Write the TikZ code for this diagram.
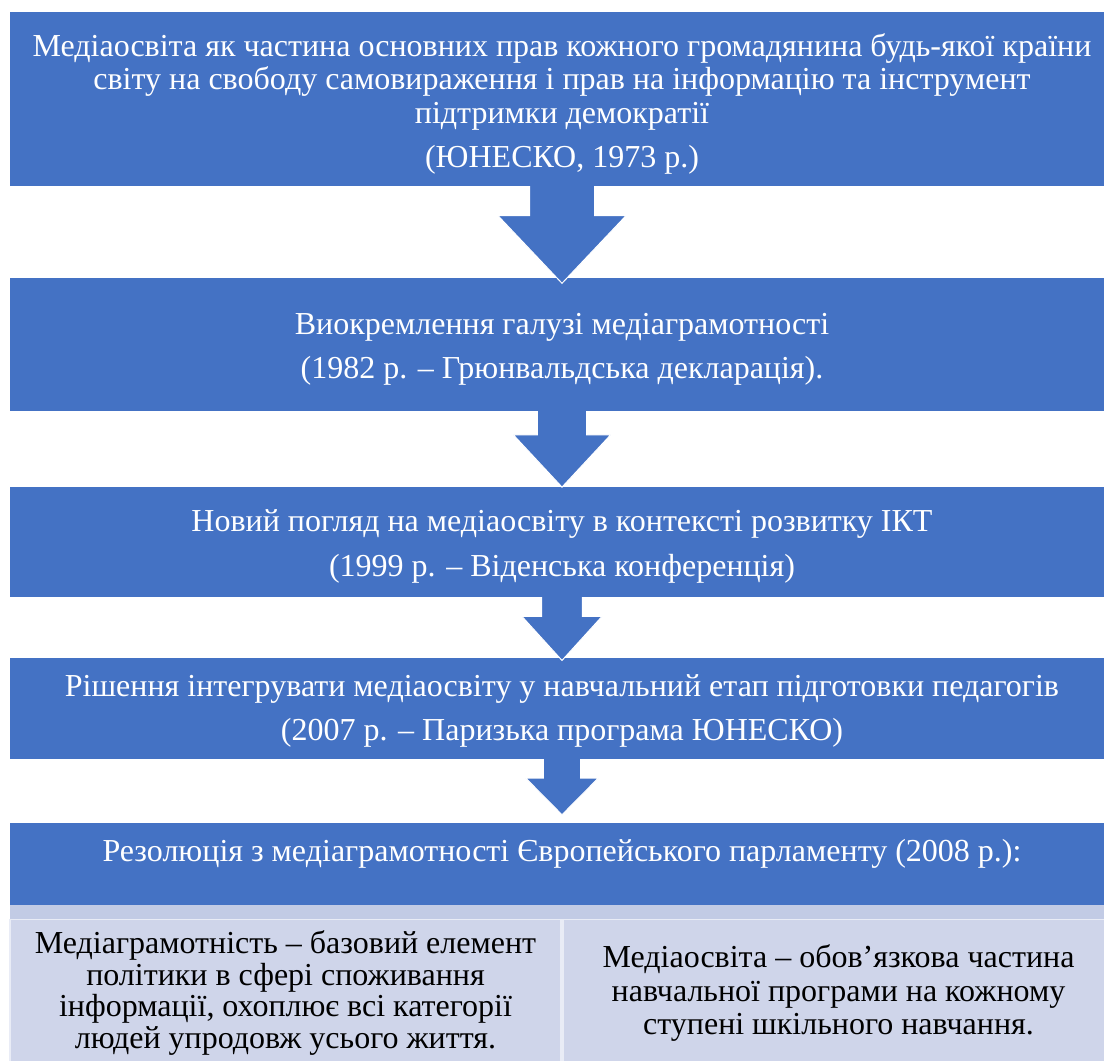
\documentclass[tikz,border=0pt]{standalone}
\usepackage{fontspec}
\setmainfont{Liberation Serif}
\usetikzlibrary{calc,positioning}

\definecolor{stageblue}{HTML}{4472C4}
\definecolor{cellfill}{HTML}{CFD5EA}
\definecolor{cellband}{HTML}{C2CBE5}

% block arrow from box #1 down to box #2: shaft half width, head half width, head length, tip shift
\newcommand{\stagearrow}[6]{%
  \fill[stageblue] let \p1=(#1.south), \p2=($(#2.north)+(0,#6)$) in
    (\x2-#3pt,\y1) -- (\x2-#3pt,\y2+#5pt) -- (\x2-#4pt,\y2+#5pt) -- (\x2,\y2)
    -- (\x2+#4pt,\y2+#5pt) -- (\x2+#3pt,\y2+#5pt) -- (\x2+#3pt,\y1) -- cycle;
  \draw[white, line width=1pt] let \p1=(#1.south), \p2=($(#2.north)+(0,#6)$) in
    (\x2-#3pt,\y1) -- (\x2-#3pt,\y2+#5pt) -- (\x2-#4pt,\y2+#5pt) -- (\x2,\y2)
    -- (\x2+#4pt,\y2+#5pt) -- (\x2+#3pt,\y2+#5pt) -- (\x2+#3pt,\y1);
}

\begin{document}
\begin{tikzpicture}[x=1pt, y=-1pt]
      \tikzset{
	  stage/.style={rectangle, fill=stageblue, inner sep=0pt, minimum width=1104pt},
	  stagetext/.style={inner sep=0pt, text=white, align=center, font=\fontsize{32}{33.2}\selectfont},
	  cell/.style={rectangle, fill=cellfill, draw=white!55!cellfill, line width=1.5pt, inner sep=0pt, minimum width=551pt, minimum height=147pt, text=black, align=center}
      }
      \useasboundingbox (0,0) rectangle (1104,1061);

      % blue stages
      \node at (562, 99) [stage, minimum height=174pt] (unesco) {};
      \node at (562, 344.5) [stage, minimum height=133pt] (grunwald) {};
      \node at (562, 542) [stage, minimum height=110pt] (vienna) {};
      \node at (562, 708.6) [stage, minimum height=100.7pt] (paris) {};
      \node at (562, 863.8) [stage, minimum height=82.3pt] (europarl) {};

      \node at ($(unesco)+(0,5)$) [stagetext] (unescotext) {Медіаосвіта як частина основних прав кожного громадянина будь-якої країни\\ світу на свободу самовираження і прав на інформацію та інструмент\\ підтримки демократії\\[11.3pt] (ЮНЕСКО, 1973 р.)};
      \node at ($(grunwald)+(0,5)$) [stagetext] (grunwaldtext) {Виокремлення галузі медіаграмотності\\[11.1pt] (1982 р. – Грюнвальдська декларація).};
      \node at ($(vienna)+(0,4.5)$) [stagetext] (viennatext) {Новий погляд на медіаосвіту в контексті розвитку ІКТ\\[11.1pt] (1999 р. – Віденська конференція)};
      \node at ($(paris)+(0,2.5)$) [stagetext] (paristext) {Рішення інтегрувати медіаосвіту у навчальний етап підготовки педагогів\\[11.1pt] (2007 р. – Паризька програма ЮНЕСКО)};
      \node at (562, 854) [stagetext] (europarltext) {Резолюція з медіаграмотності Європейського парламенту (2008 р.):};

      % resolution table
      \fill[cellband] (10,905) rectangle (1114,920);
      \node at (285.5, 993) [cell, font=\fontsize{32}{31.5}\selectfont] (literacy) {Медіаграмотність – базовий елемент\\ політики в сфері споживання\\ інформації, охоплює всі категорії\\ людей упродовж усього життя.};
      \node at (838.5, 993) [cell, font=\fontsize{32}{33.8}\selectfont] (curriculum) {Медіаосвіта – обов’язкова частина\\ навчальної програми на кожному\\ ступені шкільного навчання.};

      \stagearrow{unesco}{grunwald}{32.5}{64}{67.6}{5.5}
      \stagearrow{grunwald}{vienna}{24.7}{48.7}{52.3}{0.3}
      \stagearrow{vienna}{paris}{20.3}{40}{44}{2.4}
      \stagearrow{paris}{europarl}{18.7}{36.3}{36.7}{-7.7}
    \end{tikzpicture}
\end{document}
